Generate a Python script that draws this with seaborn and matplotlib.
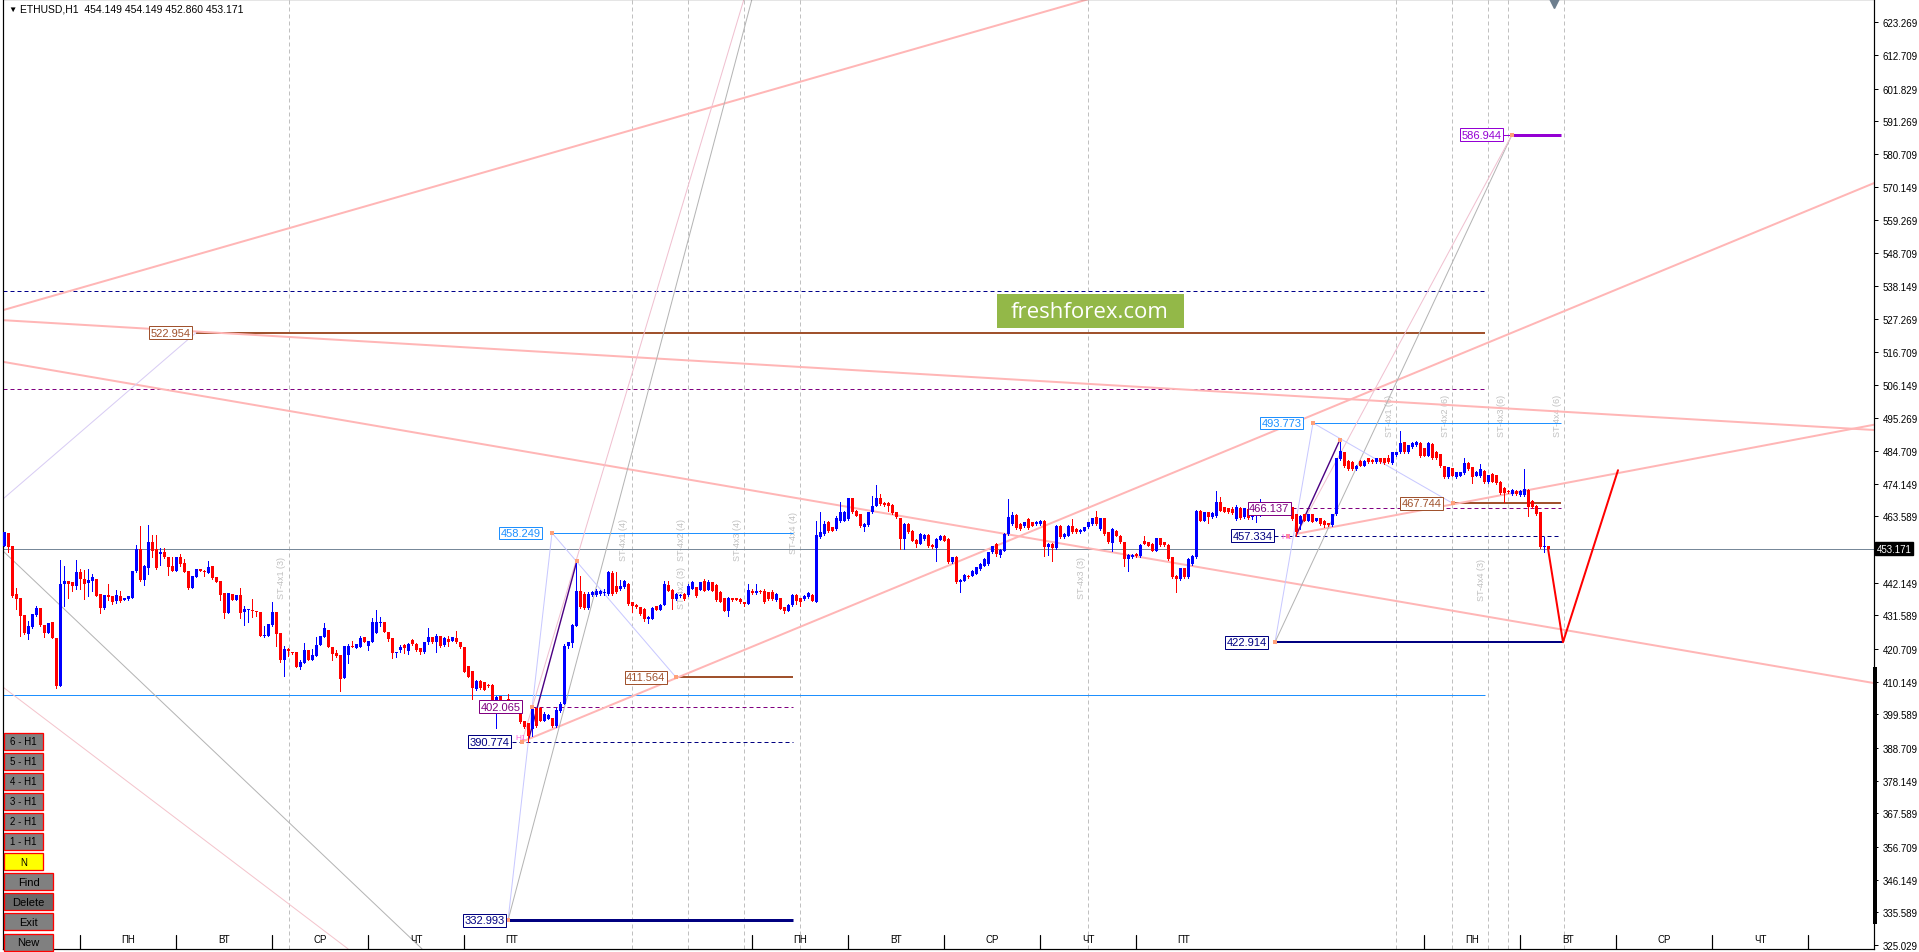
import numpy as np
import matplotlib
matplotlib.use('Agg')
import matplotlib.pyplot as plt
from matplotlib.patches import Rectangle
import seaborn as sns

# ---------------- data (ETHUSD H1 candles) ----------------
opens = [
    454.1, 458.2, 453.9, 438.5, 437.1, 431.7, 425.6, 427.7, 431.7, 434.0,
    428.6, 425.9, 429.4, 424.3, 408.9, 441.7, 442.8, 442.3, 441.2, 445.5,
    443.3, 442.1, 442.8, 443.3, 438.5, 434.0, 438.2, 437.9, 436.1, 437.8,
    436.5, 436.9, 437.2, 445.9, 453.0, 443.1, 447.0, 455.2, 453.0, 451.3,
    452.2, 450.3, 447.7, 445.9, 450.3, 448.4, 446.0, 440.5, 443.9, 446.5,
    446.0, 445.2, 447.7, 443.9, 442.8, 438.7, 432.4, 438.5, 436.4, 438.2,
    432.6, 433.2, 433.4, 433.1, 432.8, 424.8, 425.0, 428.5, 432.8, 425.9,
    417.0, 420.7, 419.6, 419.6, 414.8, 416.2, 420.4, 417.3, 418.6, 422.0,
    424.6, 427.0, 421.3, 419.3, 418.9, 411.5, 418.9, 421.8, 421.2, 421.3,
    424.5, 421.8, 422.9, 425.9, 429.2, 429.4, 426.1, 424.3, 419.4,
    420.4, 422.0, 420.2, 423.5, 422.3, 421.0, 419.8, 422.9, 424.5, 422.9,
    424.8, 422.0, 424.0, 423.4, 424.2, 422.9, 421.5, 415.3, 413.7, 407.8,
    410.5, 410.0, 409.2, 409.1, 403.0, 405.4, 404.0, 404.6, 403.5, 403.5,
    401.1, 397.6, 396.8, 394.9, 401.5, 401.5, 397.6, 398.1, 398.3, 395.9,
    400.8, 402.9, 421.8, 422.5, 428.3, 439.6, 438.5, 433.9, 438.2, 438.2,
    438.5, 438.8, 438.5, 445.3, 441.2, 440.1, 440.6, 441.7, 435.8, 435.0,
    434.2, 433.7, 430.4, 430.4, 434.5, 433.4, 435.0, 441.4, 439.9, 436.9,
    437.8, 438.5, 438.2, 440.1, 440.6, 439.9, 442.8, 439.9, 442.3, 441.4,
    439.3, 437.1, 433.1, 437.1, 437.1, 436.9, 435.8, 435.3, 439.6, 438.8,
    439.6, 439.6, 439.0, 439.3, 436.4, 437.1, 434.2, 433.1, 434.9,
    438.2, 437.1, 436.9, 437.4, 438.2, 436.0, 456.8, 457.9, 461.7, 460.0,
    459.5, 462.2, 462.2, 462.7, 469.4, 465.4, 464.3, 460.0, 460.8, 464.9,
    467.0, 469.4, 467.9, 467.9, 467.3, 464.9, 463.0, 456.3, 461.1, 459.0,
    456.0, 454.7, 456.3, 457.6, 454.3, 453.3, 456.1, 457.3, 456.3, 448.7,
    450.6, 442.3, 442.8, 444.4, 444.4, 445.0, 446.6, 447.7, 448.2, 452.0,
    454.7, 451.1, 452.5, 457.9, 461.1, 464.0, 461.1, 460.4, 462.7, 461.7,
    461.1, 461.1, 462.2, 453.6, 454.7, 453.3, 460.6, 456.8, 457.3, 460.6,
    459.5, 458.4, 459.0, 460.0, 461.1, 463.3, 459.5, 463.0, 458.4, 455.0,
    459.0, 457.3, 455.2, 449.8, 450.3, 451.4, 450.7, 455.7, 455.2, 454.7,
    452.5, 456.5, 455.2, 454.3, 450.3, 444.4, 443.3, 446.8, 443.9,
    448.2, 450.3, 465.4, 462.2, 464.9, 463.3, 463.6, 468.3, 466.5, 466.2,
    466.0, 462.7, 466.2, 463.3, 466.0, 463.3, 463.6, 463.8, 466.8, 467.0,
    464.3, 466.8, 464.7, 465.4, 466.8, 466.5, 464.3, 461.1, 464.3, 462.2,
    464.3, 462.2, 462.9, 462.2, 461.4, 460.8, 464.3, 482.1, 484.3, 481.6,
    481.3, 478.9, 481.6, 480.0, 482.3, 481.9, 481.0, 482.3, 482.3, 482.3,
    480.8, 483.4, 484.3, 487.5, 484.3, 485.9, 486.6, 487.3, 485.6, 483.2,
    487.0, 484.5, 483.7, 479.8, 476.2, 479.1, 476.2, 476.7, 477.6, 480.8,
    479.4, 476.7, 476.5, 478.4, 474.6, 477.3, 476.9, 474.8, 472.9, 471.9,
    470.8, 471.9, 470.5, 470.5, 472.2, 468.7, 467.0, 464.9, 453.6, 454.149,
]
highs = [
    458.6, 458.2, 453.9, 440.4, 437.1, 431.7, 429.9, 432.0, 434.5, 434.0,
    428.6, 429.1, 429.4, 424.3, 449.6, 447.7, 442.8, 442.3, 449.5, 446.6,
    446.3, 446.6, 445.0, 443.3, 438.5, 438.3, 441.7, 437.9, 439.9, 439.6,
    437.3, 438.0, 445.9, 454.3, 460.4, 447.9, 460.9, 457.4, 457.6, 453.4,
    453.3, 450.3, 450.3, 450.6, 451.5, 449.8, 446.0, 444.4, 446.5, 446.5,
    446.3, 449.0, 447.7, 443.9, 442.8, 438.7, 438.7, 438.5, 438.2, 440.4,
    434.5, 433.4, 436.9, 433.1, 432.8, 428.3, 428.8, 435.8, 432.8, 425.9,
    421.6, 421.0, 419.6, 419.6, 417.0, 422.6, 420.4, 420.7, 424.5, 424.8,
    429.1, 427.0, 421.3, 420.5, 418.9, 421.8, 422.4, 423.4, 422.4, 425.0,
    424.5, 423.2, 430.6, 433.4, 431.0, 429.4, 426.1, 424.3, 419.9,
    422.0, 422.2, 422.5, 424.0, 422.6, 421.0, 423.0, 427.4, 424.7, 425.6,
    425.0, 424.5, 424.8, 424.7, 426.6, 423.0, 421.5, 415.3, 413.7, 410.8,
    410.7, 410.2, 409.5, 409.3, 405.6, 405.6, 404.3, 406.2, 404.0, 403.7,
    401.1, 397.6, 396.8, 402.4, 401.5, 402.0, 400.2, 399.8, 398.3, 401.5,
    403.7, 422.3, 423.0, 428.8, 449.3, 444.2, 439.0, 439.0, 439.6, 440.2,
    439.9, 440.1, 446.0, 446.0, 445.5, 443.1, 443.0, 441.9, 436.0, 435.3,
    434.4, 433.9, 431.5, 434.2, 434.7, 435.2, 442.8, 442.8, 440.1, 438.8,
    438.4, 438.8, 441.6, 442.8, 440.8, 442.5, 443.3, 443.0, 442.5, 441.6,
    439.5, 437.3, 437.4, 437.3, 437.3, 437.1, 436.0, 441.7, 440.0, 441.7,
    439.8, 440.0, 439.2, 439.9, 438.8, 437.3, 434.4, 435.2, 438.5,
    438.4, 437.3, 438.3, 439.0, 438.4, 462.2, 464.9, 462.2, 462.0, 460.2,
    463.6, 468.1, 465.3, 469.6, 469.6, 465.6, 464.5, 461.3, 465.1, 470.3,
    473.7, 470.8, 468.1, 468.1, 467.5, 465.1, 463.2, 461.3, 461.3, 459.2,
    456.2, 458.1, 458.0, 457.8, 454.5, 456.5, 457.6, 457.5, 456.5, 450.6,
    450.8, 443.3, 444.8, 444.6, 446.2, 447.3, 448.4, 450.0, 452.2, 454.1,
    454.9, 453.0, 458.1, 469.2, 464.9, 464.2, 461.3, 461.9, 462.9, 461.9,
    462.1, 462.4, 462.4, 454.9, 454.9, 460.8, 460.8, 458.1, 460.8, 462.7,
    459.7, 459.5, 460.2, 461.9, 463.1, 465.4, 463.2, 463.2, 458.6, 459.7,
    459.2, 457.5, 455.4, 451.3, 451.3, 451.6, 454.5, 457.3, 455.4, 454.9,
    456.7, 456.7, 455.4, 454.5, 450.5, 444.6, 447.0, 447.0, 450.0,
    451.0, 465.6, 465.6, 465.1, 465.1, 464.9, 471.9, 469.7, 466.7, 466.4,
    466.5, 467.3, 466.5, 466.4, 466.2, 466.5, 465.3, 469.2, 467.0, 467.2,
    467.2, 467.9, 467.0, 467.0, 467.0, 466.7, 464.5, 464.0, 464.5, 464.5,
    464.5, 463.1, 463.1, 462.4, 461.6, 464.5, 482.5, 488.4, 484.5, 481.8,
    481.5, 480.2, 481.8, 481.8, 482.5, 482.1, 482.5, 482.5, 482.5, 483.4,
    484.5, 484.5, 491.3, 487.7, 486.8, 487.5, 487.9, 487.5, 485.8, 487.5,
    487.2, 484.7, 483.9, 480.0, 479.6, 479.3, 478.0, 478.0, 482.3, 481.0,
    479.6, 478.2, 480.5, 478.6, 477.1, 477.5, 477.1, 475.0, 473.1, 472.1,
    472.4, 472.1, 472.1, 478.9, 472.4, 468.9, 467.2, 465.1, 456.9, 454.149,
]
lows = [
    453.9, 452.0, 437.4, 433.6, 425.0, 425.6, 423.8, 427.5, 431.5, 428.3,
    424.5, 425.9, 424.2, 408.1, 408.9, 434.7, 437.2, 439.6, 440.1, 440.1,
    436.9, 438.0, 439.6, 437.8, 432.5, 433.8, 436.4, 435.1, 435.5, 435.8,
    436.5, 436.4, 437.2, 445.5, 442.8, 441.4, 445.0, 450.3, 446.6, 447.9,
    450.0, 444.7, 445.8, 445.9, 447.7, 445.5, 440.1, 440.5, 443.9, 446.0,
    444.4, 445.2, 443.4, 442.5, 436.7, 430.8, 432.4, 436.4, 436.4, 430.8,
    428.6, 429.6, 431.0, 431.3, 425.0, 424.7, 425.0, 428.3, 421.8, 416.6,
    412.1, 418.6, 419.0, 414.8, 414.1, 416.2, 417.3, 417.3, 418.6, 422.0,
    424.6, 421.3, 417.3, 418.0, 407.0, 411.5, 416.1, 421.3, 421.2, 421.3,
    423.1, 420.5, 422.9, 425.9, 428.3, 426.1, 423.4, 417.8, 418.0,
    419.7, 419.4, 419.0, 422.0, 420.0, 419.0, 419.5, 422.3, 422.8, 419.9,
    421.5, 421.8, 421.8, 423.4, 422.8, 420.9, 413.2, 411.6, 404.6, 407.6,
    407.8, 407.4, 408.5, 402.5, 395.1, 402.8, 402.8, 401.0, 400.5, 400.3,
    396.8, 395.2, 390.8, 392.7, 395.5, 397.3, 397.3, 398.0, 395.5, 395.5,
    400.5, 402.9, 421.0, 421.5, 428.0, 434.0, 433.6, 433.6, 438.0, 438.0,
    438.3, 438.2, 438.3, 438.3, 438.8, 439.9, 440.4, 435.0, 432.6, 434.0,
    431.8, 429.9, 429.1, 430.4, 433.2, 433.2, 434.8, 439.4, 433.7, 436.7,
    437.5, 436.7, 438.0, 440.0, 437.6, 439.7, 439.4, 439.7, 439.4, 436.2,
    435.8, 432.9, 431.5, 436.2, 436.4, 435.6, 434.7, 435.1, 438.6, 438.6,
    438.8, 435.6, 436.7, 436.7, 436.2, 433.5, 432.2, 432.9, 434.7,
    435.3, 434.7, 436.7, 437.2, 436.1, 436.0, 456.5, 457.6, 458.6, 458.8,
    459.3, 461.9, 462.0, 462.5, 464.7, 463.6, 460.2, 458.8, 460.6, 464.7,
    466.8, 467.4, 467.0, 465.4, 464.5, 463.1, 453.0, 453.0, 458.2, 455.5,
    453.6, 454.5, 456.0, 453.7, 453.4, 449.3, 455.9, 455.5, 448.5, 448.5,
    442.1, 439.2, 442.6, 443.7, 444.2, 444.8, 446.4, 447.5, 448.0, 451.8,
    450.7, 450.3, 452.3, 457.7, 460.9, 459.5, 459.3, 460.2, 459.5, 460.4,
    460.9, 460.9, 450.7, 451.1, 449.3, 453.1, 456.6, 456.6, 457.1, 458.2,
    458.2, 458.2, 458.8, 459.8, 460.9, 460.9, 459.3, 457.7, 455.0, 452.5,
    457.1, 455.0, 447.6, 446.0, 450.1, 450.5, 450.5, 454.5, 453.9, 452.3,
    452.3, 454.1, 454.1, 449.6, 443.7, 439.2, 443.1, 443.7, 443.7,
    448.0, 450.1, 462.0, 462.0, 461.5, 463.1, 463.4, 465.2, 464.9, 464.7,
    464.5, 462.5, 462.7, 463.1, 462.7, 462.7, 461.7, 463.6, 464.7, 465.5,
    464.1, 465.7, 464.5, 465.2, 465.7, 462.5, 457.3, 459.5, 462.0, 462.0,
    461.7, 462.0, 460.9, 460.0, 460.6, 460.6, 464.1, 481.9, 479.7, 478.7,
    478.7, 478.7, 479.8, 479.8, 480.8, 480.8, 480.8, 480.8, 480.6, 480.8,
    480.6, 483.2, 484.1, 484.1, 484.1, 485.7, 486.4, 482.8, 483.0, 483.0,
    482.1, 482.1, 479.6, 476.0, 476.0, 476.5, 476.0, 476.5, 477.4, 478.7,
    474.3, 476.5, 476.3, 474.4, 474.4, 474.6, 474.1, 470.9, 468.1, 471.1,
    470.6, 470.6, 470.3, 470.3, 463.8, 466.3, 464.1, 453.4, 452.2, 452.860,
]
closes = [
    458.4, 453.6, 438.0, 436.9, 431.5, 425.9, 428.3, 432.0, 434.0, 428.5,
    425.9, 429.1, 424.2, 408.9, 441.7, 442.8, 441.7, 441.2, 445.7, 443.3,
    441.7, 443.1, 443.9, 438.0, 434.0, 438.3, 437.4, 435.8, 438.3, 436.1,
    437.3, 437.7, 445.9, 453.0, 443.0, 447.4, 455.2, 452.5, 446.8, 452.2,
    450.3, 447.1, 445.9, 450.6, 448.2, 445.7, 440.4, 444.4, 446.5, 446.0,
    445.5, 447.1, 443.7, 442.5, 438.3, 432.4, 438.7, 436.4, 438.2, 432.4,
    433.6, 433.4, 432.9, 432.6, 425.0, 425.3, 428.8, 432.6, 425.7, 417.0,
    420.7, 420.2, 419.3, 414.8, 416.4, 420.4, 417.3, 418.9, 422.0, 424.8,
    427.4, 421.3, 419.1, 418.6, 411.0, 421.8, 421.8, 421.3, 422.4, 424.3,
    423.1, 423.2, 429.4, 429.4, 429.4, 426.1, 423.8, 419.3, 419.9,
    421.5, 421.2, 422.3, 422.3, 420.4, 419.6, 422.9, 424.7, 423.1, 425.0,
    421.8, 424.2, 423.1, 424.5, 423.1, 421.3, 413.2, 411.6, 408.0, 410.5,
    408.0, 407.6, 408.9, 403.0, 405.1, 403.0, 403.0, 401.3, 400.8, 400.5,
    397.0, 395.4, 392.7, 401.9, 395.9, 397.6, 399.7, 399.4, 395.7, 401.1,
    402.9, 421.8, 422.9, 428.5, 439.6, 434.2, 433.9, 438.5, 439.2, 439.6,
    439.6, 439.2, 445.5, 438.5, 439.0, 441.2, 442.8, 435.3, 434.7, 434.2,
    432.0, 430.4, 431.0, 433.9, 433.4, 434.9, 441.7, 439.6, 436.9, 438.5,
    438.2, 436.9, 441.2, 442.5, 437.8, 442.3, 439.6, 442.3, 439.6, 436.4,
    436.0, 433.1, 437.1, 436.4, 436.6, 435.8, 435.3, 439.9, 438.8, 439.6,
    439.0, 435.8, 436.9, 436.9, 438.5, 433.7, 433.1, 434.9, 438.2,
    436.3, 435.8, 438.0, 438.8, 436.3, 457.6, 458.4, 461.1, 459.0, 459.0,
    463.0, 464.9, 464.9, 469.4, 464.9, 463.8, 460.4, 461.1, 464.9, 467.0,
    469.4, 467.6, 467.3, 467.0, 464.7, 463.3, 456.3, 461.1, 458.4, 455.7,
    454.7, 457.9, 457.6, 453.9, 453.6, 456.3, 457.3, 455.7, 448.7, 450.3,
    442.3, 443.1, 444.6, 443.9, 446.0, 447.1, 448.2, 449.8, 452.0, 453.9,
    451.4, 452.8, 457.9, 463.3, 464.0, 459.7, 459.5, 461.7, 459.7, 460.6,
    461.9, 462.2, 453.6, 454.7, 453.3, 460.6, 456.8, 457.9, 460.6, 458.4,
    458.4, 459.3, 460.0, 461.7, 462.9, 461.1, 463.0, 457.9, 455.2, 459.5,
    457.3, 455.2, 449.8, 451.1, 451.1, 450.7, 454.3, 454.7, 454.1, 452.5,
    456.5, 454.3, 454.3, 449.8, 443.9, 443.3, 446.8, 443.9, 449.8,
    450.9, 465.4, 462.2, 464.9, 463.3, 464.7, 468.3, 465.4, 465.1, 464.9,
    464.7, 466.5, 462.9, 466.2, 462.9, 464.3, 465.1, 466.8, 464.9, 465.7,
    467.0, 465.9, 466.8, 466.8, 465.9, 462.7, 458.4, 463.8, 462.2, 464.3,
    461.9, 462.9, 461.1, 460.8, 460.8, 464.3, 482.3, 484.8, 479.9, 478.9,
    478.9, 480.0, 480.0, 481.6, 481.0, 481.0, 482.3, 481.0, 480.8, 481.0,
    484.3, 484.3, 487.3, 484.3, 486.6, 487.3, 487.7, 483.0, 483.2, 487.3,
    482.3, 482.3, 479.8, 476.2, 479.4, 476.7, 477.8, 477.8, 480.8, 478.9,
    476.2, 478.0, 478.9, 474.6, 476.9, 474.8, 474.3, 471.1, 471.1, 471.3,
    472.2, 470.8, 471.9, 472.4, 466.5, 466.5, 464.3, 453.6, 454.1, 453.171,
]

price_ticks = [623.269, 612.709, 601.829, 591.269, 580.709, 570.149, 559.269,
               548.709, 538.149, 527.269, 516.709, 506.149, 495.269, 484.709,
               474.149, 463.589, 442.149, 431.589, 420.709, 410.149, 399.589,
               388.709, 378.149, 367.589, 356.709, 346.149, 335.589, 325.029]
last_price = 453.171

day_names = ['ПН', 'ВТ', 'СР', 'ЧТ', 'ПТ', 'ПН', 'ВТ', 'СР', 'ЧТ', 'ПТ',
             'ПН', 'ВТ', 'СР', 'ЧТ']
day_centers = [32, 56, 80, 104, 128, 200, 224, 248, 272, 296, 368, 392, 416, 440]
day_bounds = [20, 44, 68, 92, 116, 188, 212, 236, 260, 284, 356, 380, 404, 428, 452]

# vertical "ST" markers: bar position and captions
vline_bars = [72.25, 158, 172, 186, 200, 272, 349, 363, 372, 377, 391]
st_labels = [(70.5, 444.0, 'ST-4x1 (3)'), (156, 456.3, 'ST-4x1 (4)'),
             (170.25, 456.3, 'ST-4x2 (4)'), (170.25, 440.8, 'ST-4x2 (3)'),
             (184.25, 456.3, 'ST-4x3 (4)'), (198.25, 458.5, 'ST-4x4 (4)'),
             (270.5, 444.0, 'ST-4x3 (3)'), (347.5, 496.3, 'ST-4x1 (6)'),
             (361.5, 496.3, 'ST-4x2 (6)'), (375.5, 496.3, 'ST-4x3 (6)'),
             (389.25, 496.3, 'ST-4x4 (6)'), (370.25, 443.4, 'ST-4x4 (3)')]

# thick pink trend lines (bar, price) pairs
trend_x = [(0, 272.25), (0, 468.5), (0, 468.5), (131, 468.5), (324, 468.5)]
trend_y = [(529.96, 630.8), (527.05, 491.5), (513.7, 409.7), (391.0, 571.3), (457.9, 493.2)]

# thin helper lines: x pair, y pair, colour
thin_x = [(0.75, 105.5), (0.75, 87), (0.75, 49),
          (127, 138), (127, 188), (130.5, 186), (132.25, 144.25), (138, 169),
          (318.75, 328.25), (318.75, 378), (324, 378), (324, 335), (328.25, 363.25)]
thin_y = [(452.4, 323.8), (408.4, 323.8), (469.2, 522.954),
          (332.993, 458.249), (332.993, 630.8), (390.774, 630.8), (391.9, 449.3), (458.249, 411.564),
          (422.914, 493.773), (422.914, 586.944), (457.334, 586.944), (457.334, 488.4), (493.773, 467.744)]
thin_c = ['#b4b4b4', '#f4c4cc', '#d8ccf4',
          '#c8c8ff', '#b4b4b4', '#f0c0d0', '#4b0082', '#c8c8ff',
          '#c8c8ff', '#b4b4b4', '#f0c0d0', '#4b0082', '#c8c8ff']

# horizontal levels: price, from bar, to bar, colour, width px, dashed
lvl_price = [536.3, 504.6, 522.954, 405.7, 458.249, 411.564, 402.065, 390.774, 332.993,
             493.773, 467.744, 466.2, 457.334, 422.914, 586.944, 586.944]
lvl_x0 = [0.75, 0.75, 49, 0.75, 138, 169, 133, 128, 127, 328.25, 363.25, 323, 318.5, 319, 378, 375.75]
lvl_x1 = [371.25, 371.25, 371.25, 371.25, 198.25, 198.25, 198.25, 198.25, 198.25,
          390.25, 390.25, 390.25, 390.25, 390.75, 390.25, 378]
lvl_col = ['#00008b', '#800080', '#a0522d', '#1e90ff', '#1e90ff', '#a0522d', '#800080', '#000080',
           '#000080', '#1e90ff', '#a0522d', '#800080', '#000080', '#000080', '#9400d3', '#9400d3']
lvl_w = [1, 1, 2, 1, 1, 2, 1, 1, 3, 1, 2, 1, 1, 2, 3, 1]
lvl_dash = [1, 1, 0, 0, 0, 0, 1, 1, 0, 0, 0, 1, 1, 0, 0, 0]

# boxed price captions: right edge bar, price, text, colour
tag_x = [48, 135.5, 166.75, 130.5, 127.75, 126.5, 325.75, 360.75, 322.75, 318.5, 317, 375.75]
tag_y = [522.954, 458.249, 411.564, 402.065, 390.774, 332.993, 493.773, 467.744, 466.2, 457.334, 422.914, 586.944]
tag_txt = ['522.954', '458.249', '411.564', '402.065', '390.774', '332.993',
           '493.773', '467.744', '466.137', '457.334', '422.914', '586.944']
tag_col = ['#a0522d', '#1e90ff', '#a0522d', '#800080', '#000080', '#000080',
           '#1e90ff', '#a0522d', '#800080', '#000080', '#000080', '#9400d3']

anchor_x = [127, 130.5, 133, 138, 144.25, 169, 318.75, 322, 328.25, 335, 363.25, 378]
anchor_y = [332.993, 390.774, 402.065, 458.249, 449.3, 411.564, 422.914, 457.334, 493.773, 488.4, 467.744, 586.944]

proj_x = [387, 390.75, 404.5]
proj_y = [453.171, 422.914, 478.5]

buttons = ['6 - H1', '5 - H1', '4 - H1', '3 - H1', '2 - H1', '1 - H1', 'N', 'Find', 'Delete', 'Exit', 'New']

# ---------------- drawing ----------------
sns.set_style('white')
plt.rcParams['font.family'] = ['Liberation Sans', 'DejaVu Sans']

W, H = 1919, 953
PX = 0.72  # one pixel in points at dpi 100
fig = plt.figure(figsize=(W / 100, H / 100), dpi=100)
ax = fig.add_axes([3 / W, 3 / H, 1871 / W, 950 / H])

n = min(len(opens), len(highs), len(lows), len(closes))
idx = np.arange(1, n + 1)
o = np.array(opens[:n]); h = np.array(highs[:n]); l = np.array(lows[:n]); c = np.array(closes[:n])
up = c >= o
cols = np.where(up, '#0000ff', '#ff0000')

# dashed vertical markers
for xb in vline_bars:
    ax.axvline(xb, color='#c0c0c0', lw=PX, ls=(0, (4, 3)), zorder=1)
for xb, yp, s in st_labels:
    ax.text(xb, yp, s, rotation=90, color='#c0c0c0', fontsize=6.5, ha='center', va='center', zorder=1)

# horizontal levels
for p, x0, x1, col, w, d in zip(lvl_price, lvl_x0, lvl_x1, lvl_col, lvl_w, lvl_dash):
    ax.plot([x0, x1], [p, p], color=col, lw=w * PX, ls=(0, (4, 3)) if d else '-',
            solid_capstyle='butt', zorder=2)
ax.axhline(last_price, color='#778899', lw=PX, zorder=2)

# trend lines via seaborn
for xs, ys in zip(trend_x, trend_y):
    sns.lineplot(x=list(xs), y=list(ys), ax=ax, color='#ffb6b6', linewidth=2 * PX,
                 sort=False, estimator=None, zorder=2)
for xs, ys, col in zip(thin_x, thin_y, thin_c):
    lw = 1.4 * PX if col == '#4b0082' else PX
    sns.lineplot(x=list(xs), y=list(ys), ax=ax, color=col, linewidth=lw,
                 sort=False, estimator=None, zorder=2)

# candles
body_lo = np.minimum(o, c)
body_h = np.maximum(np.abs(c - o), 0.33)
ax.vlines(idx, l, h, colors=cols, linewidth=PX, antialiased=False, zorder=3)
ax.bar(idx, body_h, bottom=body_lo, width=0.75, color=cols, linewidth=0,
       antialiased=False, zorder=3)

# projection
sns.lineplot(x=proj_x, y=proj_y, ax=ax, color='#ff0000', linewidth=2 * PX,
             sort=False, estimator=None, zorder=4)

# anchors and captions
ax.scatter(anchor_x, anchor_y, s=9, marker='s', color='#ffa07a', linewidths=0, zorder=5)
for xb, yp, s, col in zip(tag_x, tag_y, tag_txt, tag_col):
    ax.text(xb - 0.4, yp, s, color=col, fontsize=8, ha='right', va='center', zorder=6,
            bbox=dict(boxstyle='square,pad=0.12', fc='white', ec=col, lw=PX))
ax.text(130.3, 392.0, 'H1', color='#ff66dd', fontsize=6, ha='center', va='center', zorder=6)
ax.text(321.8, 457.0, 'H1', color='#ff66dd', fontsize=6, ha='center', va='center', zorder=6)

# axes formatting
ax.set_xlim(0.75, 468.5)
ax.set_ylim(323.754, 630.80)
ax.set_xlabel('')
ax.set_ylabel('')
for sp in ax.spines.values():
    sp.set_color('black')
    sp.set_linewidth(PX * 1.2)
ax.yaxis.tick_right()
ax.set_yticks(price_ticks)
ax.set_yticklabels([f'{v:.3f}' for v in price_ticks])
ax.tick_params(axis='y', length=3, width=PX, pad=3, labelsize=7, colors='black', direction='out')
ax.set_xticks(np.arange(16.5, 468, 16))
ax.tick_params(axis='x', length=3, width=PX, labelbottom=False, direction='out')
ax.grid(False)

# current price tag
ax.text(1.0015, last_price, f'{last_price:.3f}', transform=ax.get_yaxis_transform(),
        color='white', fontsize=7, ha='left', va='center',
        bbox=dict(boxstyle='square,pad=0.18', fc='black', ec='black'), clip_on=False, zorder=7)
ax.plot([388.5], [629.6], marker='v', ms=7, color='#6e7f8f', clip_on=False, zorder=7)

# scale marker on the price axis border
fig.add_artist(Rectangle((1873 / W, 1 - 925 / H), 4 / W, 257 / H, transform=fig.transFigure,
                         facecolor='black', edgecolor='none', zorder=10))

# day labels along the bottom
tr = ax.get_xaxis_transform()
for xb in day_bounds:
    ax.plot([xb, xb], [0, 14 / 950], color='black', lw=PX * 1.2, transform=tr, zorder=7)
for xb, s in zip(day_centers, day_names):
    ax.text(xb, 10 / 950, s, transform=tr, fontsize=7, ha='center', va='center', color='black', zorder=7)

# title
fig.text(8 / W, 1 - 10 / H, '▼', fontsize=6, ha='left', va='center', color='black')
fig.text(20 / W, 1 - 10 / H, 'ETHUSD,H1  454.149 454.149 452.860 453.171', fontsize=7.5,
         ha='left', va='center', color='black')

# freshforex badge
fig.add_artist(Rectangle((997 / W, 1 - 329 / H), 187 / W, 34 / H, transform=fig.transFigure,
                         facecolor='#93b848', edgecolor='none', zorder=8))
fig.text(1090 / W, 1 - 312 / H, 'freshforex.com', fontsize=16, color='white', ha='center',
         va='center', family=['Open Sans', 'DejaVu Sans'], zorder=9)

# control buttons
for k, s in enumerate(buttons):
    cy = 742 + 20.1 * k
    wpx = 39 if k < 7 else 49
    fc = '#ffff00' if s == 'N' else ('#696969' if s == 'Delete' else '#808080')
    fig.add_artist(Rectangle((4 / W, 1 - (cy + 8.5) / H), wpx / W, 17 / H, transform=fig.transFigure,
                             facecolor=fc, edgecolor='#ff0000', linewidth=PX * 1.3, zorder=8))
    fig.text((4 + wpx / 2) / W, 1 - cy / H, s, fontsize=7 if k < 7 else 8, color='black',
             ha='center', va='center', zorder=9)

fig.savefig('out.png', dpi=100)
